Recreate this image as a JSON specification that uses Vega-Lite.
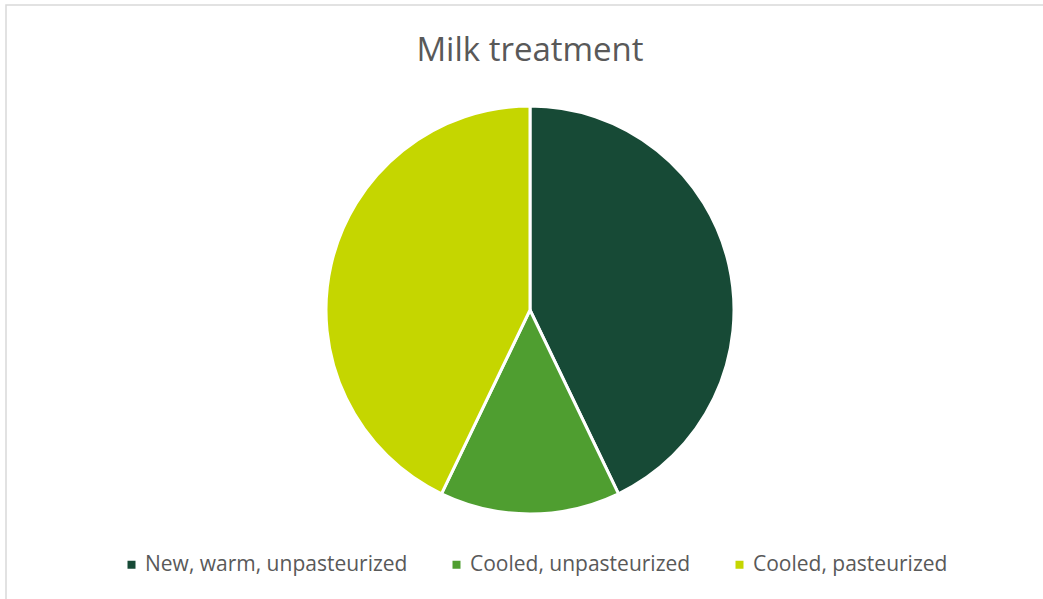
{
  "$schema": "https://vega.github.io/schema/vega-lite/v6.json",
  "autosize": {"type": "none"},
  "width": 1048,
  "height": 610,
  "padding": {"left": 6, "top": 5, "right": 0, "bottom": 0},
  "background": "#ffffff",
  "view": {"stroke": "#d9d9d9", "strokeWidth": 1.5, "fill": "#ffffff"},
  "config": {
    "font": "Open Sans"
  },
  "title": {
    "text": "Milk treatment",
    "orient": "top",
    "anchor": "middle",
    "baseline": "alphabetic",
    "offset": -89,
    "font": "Open Sans",
    "fontSize": 33,
    "fontWeight": "normal",
    "color": "#595959"
  },
  "data": {
    "values": [
      {"treatment": "New, warm, unpasteurized", "count": 3, "order": 1},
      {"treatment": "Cooled, unpasteurized", "count": 1, "order": 2},
      {"treatment": "Cooled, pasteurized", "count": 3, "order": 3}
    ]
  },
  "mark": {"type": "arc", "outerRadius": 204, "stroke": "#ffffff", "strokeWidth": 3},
  "encoding": {
    "theta": {"field": "count", "type": "quantitative", "stack": true},
    "order": {"field": "order", "type": "quantitative"},
    "color": {
      "field": "treatment",
      "type": "nominal",
      "scale": {
        "domain": ["New, warm, unpasteurized", "Cooled, unpasteurized", "Cooled, pasteurized"],
        "range": ["#174a36", "#4f9e30", "#c5d600"]
      },
      "legend": {
        "title": null,
        "orient": "none",
        "direction": "horizontal",
        "legendX": 115,
        "legendY": 549,
        "padding": 0,
        "symbolType": "square",
        "symbolSize": 64,
        "symbolStrokeWidth": 0,
        "labelFont": "Open Sans",
        "labelFontSize": 21,
        "labelColor": "#595959",
        "labelOffset": 3,
        "columnPadding": 38,
        "labelLimit": 400
      }
    }
  }
}
